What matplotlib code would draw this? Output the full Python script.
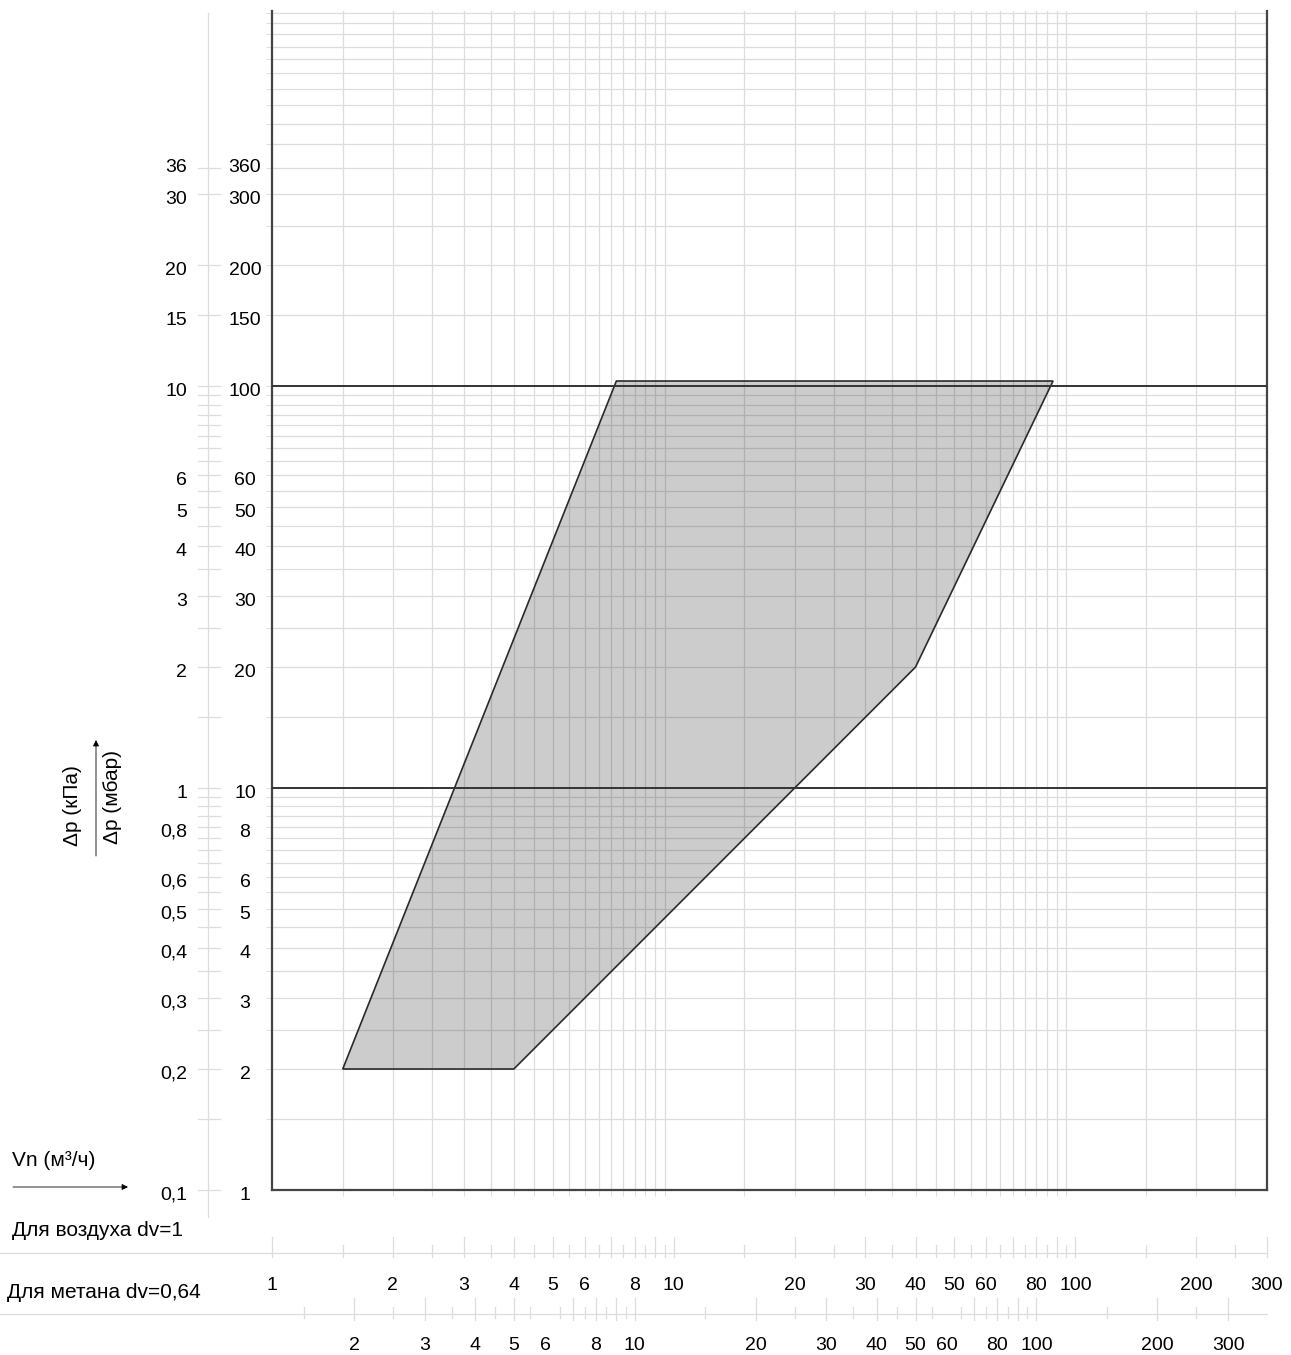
import numpy as np
import matplotlib
matplotlib.use("Agg")
import matplotlib.pyplot as plt
from matplotlib.transforms import blended_transform_factory, ScaledTranslation

plt.rcParams['font.family'] = ['Liberation Sans', 'DejaVu Sans']

# working range polygon (air flow m3/h, pressure drop mbar)
flow_air = [1.5, 7.2, 88, 40, 4]
dp_mbar = [2, 103, 103, 20, 2]

# left scales
mbar_ticks = [1, 2, 3, 4, 5, 6, 8, 10, 20, 30, 40, 50, 60, 100, 150, 200, 300, 360]
mbar_labels = ['1', '2', '3', '4', '5', '6', '8', '10', '20', '30', '40', '50', '60',
               '100', '150', '200', '300', '360']
kpa_labels = ['0,1', '0,2', '0,3', '0,4', '0,5', '0,6', '0,8', '1', '2', '3', '4', '5', '6',
              '10', '15', '20', '30', '36']
kpa_upper_ticks = [150, 200, 300, 350]

# bottom scales
air_labels = [1, 2, 3, 4, 5, 6, 8, 10, 20, 30, 40, 50, 60, 80, 100, 200, 300]
air_long = [1, 2, 3, 4, 5, 6, 7, 8, 9, 10, 20, 30, 40, 50, 60, 70, 80, 90, 100, 200, 300]
air_short = [1.5, 2.5, 3.5, 4.5, 5.5, 6.5, 7.5, 8.5, 9.5, 15, 25, 35, 45, 55, 65, 75,
             85, 95, 150, 250]
methane_labels = [2, 3, 4, 5, 6, 8, 10, 20, 30, 40, 50, 60, 80, 100, 200, 300]
methane_long = [2, 3, 4, 5, 7, 8, 9, 10, 20, 30, 40, 50, 70, 80, 90, 100, 200, 300]
methane_short = [1.5, 2.5, 3.5, 4.5, 5.5, 6.5, 7.5, 8.5, 9.5, 15, 25, 35, 45, 55, 65,
                 75, 85, 95, 150, 250]
dv_methane = 0.64
k_methane = 1 / np.sqrt(dv_methane)  # methane flow = air flow * 1.25

W, H = 1291, 1355
fig = plt.figure(figsize=(W / 100, H / 100), dpi=100)
ax = fig.add_axes([272 / W, 1 - 1190 / H, (1267 - 272) / W, (1190 - 11) / H])
ax.set_xscale('log')
ax.set_yscale('log')
ax.set_xlim(1, 300)
ax.set_ylim(1, 858)

def fx(px):
    return px / W

def fy(py):
    return 1 - py / H

# grid: every half step in each decade
gx = [v for d in (1, 10, 100) for v in np.arange(1.5, 10, 0.5) * d if v < 300]
gy = [v for d in (1, 10, 100) for v in np.arange(1.5, 10, 0.5) * d if v <= 850]
gcol = '#dddddd'
for v in gx:
    ax.axvline(v, color=gcol, lw=0.9, zorder=1)
for v in gy:
    ax.axhline(v, color=gcol, lw=0.9, zorder=1)
for v in (10, 100):
    ax.axhline(v, color='#333333', lw=1.4, zorder=4)

ax.set_xticks(gx)
ax.set_yticks(gy + [10, 100])
ax.set_xticks([], minor=True)
ax.set_yticks([], minor=True)
ax.set_xticklabels([])
ax.set_yticklabels([])
ax.tick_params(which='both', direction='out', length=4.5, width=0.7, color=gcol)

for s in ('left', 'right', 'bottom'):
    ax.spines[s].set_color('#444444')
    ax.spines[s].set_linewidth(1.6)
ax.spines['top'].set_visible(False)

ax.fill(flow_air, dp_mbar, facecolor=(0, 0, 0, 0.2), edgecolor='#2a2a2a', lw=1.2, zorder=3)

# left labels (mbar and kPa)
fs = 14
ty = blended_transform_factory(fig.transFigure, ax.transData)
down = ScaledTranslation(0, -5 / 100, fig.dpi_scale_trans)
for v, lm, lk in zip(mbar_ticks, mbar_labels, kpa_labels):
    ax.text(fx(245), v, lm, transform=ty + down, ha='center', va='center', fontsize=fs)
    ax.text(fx(187), v, lk, transform=ty + down, ha='right', va='center', fontsize=fs)

# kPa scale line with ticks
ax.plot([fx(208), fx(208)], [0.855, 850], transform=ty, color=gcol, lw=0.9, clip_on=False)
kpa_ticks = [1, 10] + [v for v in gy if v < 100] + [100] + kpa_upper_ticks
for v in kpa_ticks:
    ax.plot([fx(198), fx(220)], [v, v], transform=ty, color=gcol, lw=0.9, clip_on=False)

# bottom scales
tx = blended_transform_factory(ax.transData, fig.transFigure)
for yy in (1253, 1314):
    ax.plot([0, 1267 / W], [fy(yy), fy(yy)], transform=fig.transFigure, color=gcol, lw=0.9,
            clip_on=False)
for v in air_long:
    ax.plot([v, v], [fy(1237), fy(1257)], transform=tx, color=gcol, lw=0.9, clip_on=False)
for v in air_short:
    ax.plot([v, v], [fy(1245), fy(1257)], transform=tx, color=gcol, lw=0.9, clip_on=False)
for v in methane_long:
    ax.plot([v / k_methane] * 2, [fy(1298), fy(1320)], transform=tx, color=gcol, lw=0.9,
            clip_on=False)
for v in methane_short:
    ax.plot([v / k_methane] * 2, [fy(1307), fy(1318)], transform=tx, color=gcol, lw=0.9,
            clip_on=False)
for v in air_labels:
    ax.text(v, fy(1286), str(v), transform=tx, ha='center', va='center', fontsize=fs)
for v in methane_labels:
    ax.text(v / k_methane, fy(1345), str(v), transform=tx, ha='center', va='center',
            fontsize=fs)

# axis titles and texts
fs2 = 15
fig.text(fx(72), fy(806), 'Δp (кПа)', rotation=90, ha='center', va='center', fontsize=fs2)
fig.text(fx(113), fy(797), 'Δp (мбар)', rotation=90, ha='center', va='center', fontsize=fs2)
fig.text(fx(12), fy(1160), 'Vn (м³/ч)', ha='left', va='center', fontsize=fs2)
fig.text(fx(12), fy(1230), 'Для воздуха dv=1', ha='left', va='center', fontsize=fs2)
fig.text(fx(7), fy(1292), 'Для метана dv=0,64', ha='left', va='center', fontsize=fs2)

ax.annotate('', xy=(fx(96), fy(740)), xytext=(fx(96), fy(856)), xycoords='figure fraction',
            arrowprops=dict(arrowstyle='-|>', color='black', lw=0.6, mutation_scale=9,
                            shrinkA=0, shrinkB=0))
ax.annotate('', xy=(fx(128), fy(1187)), xytext=(fx(13), fy(1187)), xycoords='figure fraction',
            arrowprops=dict(arrowstyle='-|>', color='black', lw=0.6, mutation_scale=9,
                            shrinkA=0, shrinkB=0))

fig.savefig('out.png', dpi=100)
